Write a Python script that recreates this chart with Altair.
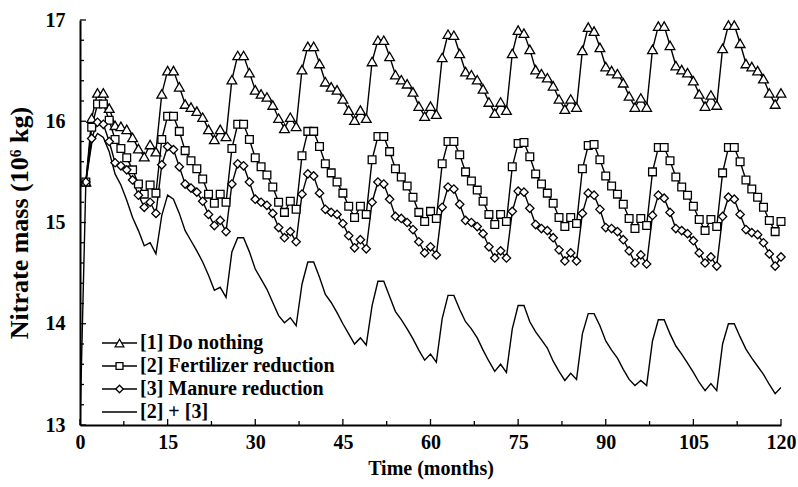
import altair as alt
import pandas as pd

# ---------------- data ----------------
months = list(range(1, 121))
months_combined = list(range(0, 121))

do_nothing = [
    15.40, 16.03, 16.28, 16.28, 16.13, 15.96, 15.95, 15.92, 15.84, 15.73, 15.65, 15.77,
    15.70, 16.27, 16.50, 16.50, 16.34, 16.17, 16.14, 16.10, 16.04, 15.92, 15.82, 15.92,
    15.85, 16.41, 16.65, 16.65, 16.48, 16.31, 16.27, 16.24, 16.16, 16.03, 15.93, 16.04,
    15.95, 16.51, 16.74, 16.74, 16.57, 16.39, 16.34, 16.31, 16.22, 16.11, 16.01, 16.11,
    16.03, 16.59, 16.80, 16.80, 16.64, 16.46, 16.41, 16.37, 16.29, 16.15, 16.05, 16.15,
    16.07, 16.63, 16.86, 16.85, 16.67, 16.49, 16.46, 16.41, 16.32, 16.19, 16.08, 16.19,
    16.11, 16.67, 16.90, 16.87, 16.71, 16.51, 16.47, 16.43, 16.35, 16.22, 16.12, 16.22,
    16.14, 16.70, 16.93, 16.89, 16.73, 16.54, 16.50, 16.47, 16.38, 16.25, 16.14, 16.23,
    16.14, 16.71, 16.94, 16.94, 16.75, 16.55, 16.51, 16.48, 16.40, 16.27, 16.15, 16.26,
    16.16, 16.72, 16.95, 16.95, 16.77, 16.57, 16.54, 16.50, 16.42, 16.28, 16.17, 16.28,
]

fertilizer = [
    15.40, 15.94, 16.17, 16.17, 16.01, 15.82, 15.73, 15.64, 15.52, 15.38, 15.28, 15.37,
    15.29, 15.82, 16.05, 16.05, 15.90, 15.71, 15.61, 15.53, 15.43, 15.28, 15.19, 15.28,
    15.20, 15.73, 15.97, 15.97, 15.82, 15.64, 15.55, 15.47, 15.35, 15.20, 15.10, 15.21,
    15.13, 15.66, 15.90, 15.90, 15.75, 15.58, 15.49, 15.40, 15.29, 15.16, 15.05, 15.16,
    15.08, 15.62, 15.85, 15.85, 15.70, 15.53, 15.45, 15.36, 15.25, 15.10, 15.01, 15.11,
    15.04, 15.58, 15.80, 15.80, 15.67, 15.50, 15.41, 15.32, 15.21, 15.08, 14.98, 15.08,
    15.01, 15.55, 15.78, 15.79, 15.65, 15.48, 15.38, 15.29, 15.19, 15.05, 14.96, 15.05,
    14.99, 15.53, 15.76, 15.77, 15.62, 15.46, 15.36, 15.28, 15.18, 15.04, 14.94, 15.04,
    14.97, 15.50, 15.74, 15.74, 15.61, 15.45, 15.35, 15.27, 15.16, 15.03, 14.92, 15.03,
    14.96, 15.49, 15.74, 15.74, 15.60, 15.42, 15.33, 15.25, 15.15, 15.02, 14.91, 15.01,
]

manure = [
    15.40, 15.83, 15.99, 15.97, 15.80, 15.59, 15.56, 15.52, 15.42, 15.27, 15.15, 15.20,
    15.09, 15.57, 15.75, 15.72, 15.55, 15.38, 15.34, 15.30, 15.21, 15.08, 14.97, 15.02,
    14.91, 15.38, 15.58, 15.56, 15.40, 15.23, 15.20, 15.17, 15.09, 14.95, 14.85, 14.91,
    14.81, 15.28, 15.48, 15.46, 15.29, 15.13, 15.10, 15.08, 14.99, 14.87, 14.75, 14.83,
    14.74, 15.20, 15.40, 15.38, 15.23, 15.06, 15.04, 15.00, 14.93, 14.81, 14.70, 14.76,
    14.68, 15.15, 15.35, 15.33, 15.18, 15.02, 15.00, 14.96, 14.89, 14.76, 14.65, 14.72,
    14.65, 15.11, 15.31, 15.30, 15.14, 14.98, 14.94, 14.92, 14.85, 14.73, 14.62, 14.70,
    14.62, 15.09, 15.29, 15.27, 15.13, 14.95, 14.94, 14.91, 14.83, 14.72, 14.60, 14.68,
    14.59, 15.07, 15.27, 15.24, 15.10, 14.94, 14.92, 14.89, 14.82, 14.70, 14.60, 14.66,
    14.57, 15.06, 15.25, 15.23, 15.08, 14.93, 14.90, 14.88, 14.80, 14.69, 14.57, 14.66,
]

combined = [
    13.00,
    15.40, 15.78, 15.88, 15.84, 15.70, 15.48, 15.37, 15.22, 15.05, 14.92, 14.77, 14.80,
    14.69, 15.07, 15.27, 15.23, 15.09, 14.92, 14.82, 14.72, 14.61, 14.48, 14.33, 14.36,
    14.26, 14.71, 14.85, 14.85, 14.71, 14.54, 14.44, 14.34, 14.21, 14.08, 14.01, 14.06,
    13.98, 14.39, 14.61, 14.61, 14.46, 14.29, 14.21, 14.11, 14.00, 13.90, 13.80, 13.86,
    13.79, 14.18, 14.42, 14.42, 14.27, 14.12, 14.04, 13.95, 13.85, 13.74, 13.64, 13.70,
    13.62, 14.05, 14.28, 14.28, 14.14, 14.02, 13.95, 13.86, 13.74, 13.63, 13.53, 13.60,
    13.52, 13.95, 14.18, 14.18, 14.02, 13.92, 13.84, 13.76, 13.63, 13.53, 13.44, 13.51,
    13.45, 13.90, 14.10, 14.10, 13.98, 13.83, 13.74, 13.66, 13.55, 13.45, 13.39, 13.44,
    13.39, 13.83, 14.04, 14.04, 13.90, 13.78, 13.70, 13.61, 13.52, 13.42, 13.34, 13.41,
    13.34, 13.80, 14.00, 14.00, 13.87, 13.75, 13.66, 13.58, 13.50, 13.40, 13.31, 13.37,
]

series_names = ["[1] Do nothing", "[2] Fertilizer reduction", "[3] Manure reduction", "[2] + [3]"]
marker_shapes = ["triangle-up", "square", "diamond"]
marker_sizes = [95, 60, 70]

x_major = [0, 15, 30, 45, 60, 75, 90, 105, 120]
x_minor = [7.5, 22.5, 37.5, 52.5, 67.5, 82.5, 97.5, 112.5]
y_major = [13, 14, 15, 16, 17]
y_minor = [13.2, 13.4, 13.6, 13.8, 14.2, 14.4, 14.6, 14.8, 15.2, 15.4, 15.6, 15.8,
           16.2, 16.4, 16.6, 16.8]

# ---------------- build tables ----------------
rows = []
for name, vals, ms in [
    (series_names[0], do_nothing, months),
    (series_names[1], fertilizer, months),
    (series_names[2], manure, months),
    (series_names[3], combined, months_combined),
]:
    for m, v in zip(ms, vals):
        rows.append({"month": m, "value": v, "series": name})
df = pd.DataFrame(rows)

W, H = 701, 405
FONT = "Liberation Serif"

xs = alt.Scale(domain=[0, 120], nice=False, zero=False)
ys = alt.Scale(domain=[13, 17], nice=False, zero=False)
x_axis = alt.Axis(values=x_major, title="Time (months)", ticks=False, grid=False,
                  labelPadding=7, titlePadding=6, format="d", labelFlush=False)
y_axis = alt.Axis(values=y_major, title="Nitrate mass (10⁶ kg)", ticks=False, grid=False,
                  labelPadding=15, titlePadding=13, format="d", labelFlush=False,
                  titleFontSize=26)


def X(field):
    return alt.X(field, scale=xs, axis=x_axis)


def Y(field):
    return alt.Y(field, scale=ys, axis=y_axis)


layers = []

# lines
layers.append(
    alt.Chart(df).mark_line(color="black", strokeWidth=1.4, clip=True).encode(
        x=X("month:Q"), y=Y("value:Q"), detail="series:N", order="month:Q"
    )
)

# markers
for name, shp, sz in zip(series_names[:3], marker_shapes, marker_sizes):
    layers.append(
        alt.Chart(df[df.series == name]).mark_point(
            shape=shp, size=sz, filled=True, fill="white", stroke="black",
            strokeWidth=1.3, opacity=1, fillOpacity=1
        ).encode(x=X("month:Q"), y=Y("value:Q"))
    )

# inward ticks
tick_style = dict(color="black", strokeWidth=1.3)
layers.append(alt.Chart(pd.DataFrame({"t": x_major})).mark_rule(**tick_style).encode(
    x=X("t:Q"), y=alt.value(H), y2=alt.value(H - 6)))
layers.append(alt.Chart(pd.DataFrame({"t": x_minor})).mark_rule(**tick_style).encode(
    x=X("t:Q"), y=alt.value(H), y2=alt.value(H - 4)))
layers.append(alt.Chart(pd.DataFrame({"t": y_major})).mark_rule(**tick_style).encode(
    y=Y("t:Q"), x=alt.value(0), x2=alt.value(6)))
layers.append(alt.Chart(pd.DataFrame({"t": y_minor})).mark_rule(**tick_style).encode(
    y=Y("t:Q"), x=alt.value(0), x2=alt.value(4)))

# legend (drawn inside the plot, lower left)
legend_y = [323, 346, 369, 392]
for i, name in enumerate(series_names):
    ldf = pd.DataFrame({"s": [name]})
    ly = legend_y[i]
    layers.append(alt.Chart(ldf).mark_rule(color="black", strokeWidth=1.4).encode(
        x=alt.value(22), x2=alt.value(57), y=alt.value(ly)))
    if i < 3:
        layers.append(alt.Chart(ldf).mark_point(
            shape=marker_shapes[i], size=marker_sizes[i] * 0.8, filled=True, fill="white",
            stroke="black", strokeWidth=1.3, opacity=1).encode(
            x=alt.value(39.5), y=alt.value(ly)))
    layers.append(alt.Chart(ldf).mark_text(
        align="left", baseline="middle", font=FONT, fontSize=20, fontWeight="bold",
        color="black").encode(x=alt.value(60), y=alt.value(ly), text="s:N"))

chart = alt.layer(*layers).properties(
    width=W, height=H,
    autosize=alt.AutoSizeParams(type="none"),
    padding={"left": 80, "top": 20, "right": 17, "bottom": 62},
    background="white",
).configure_view(stroke=None).configure_axis(
    domainColor="black", domainWidth=2,
    labelFont=FONT, labelFontSize=20, labelFontWeight="bold", labelColor="black",
    titleFont=FONT, titleFontSize=20, titleFontWeight="bold", titleColor="black",
)

chart.save("out.html", embed_options={"renderer": "svg", "actions": False})
